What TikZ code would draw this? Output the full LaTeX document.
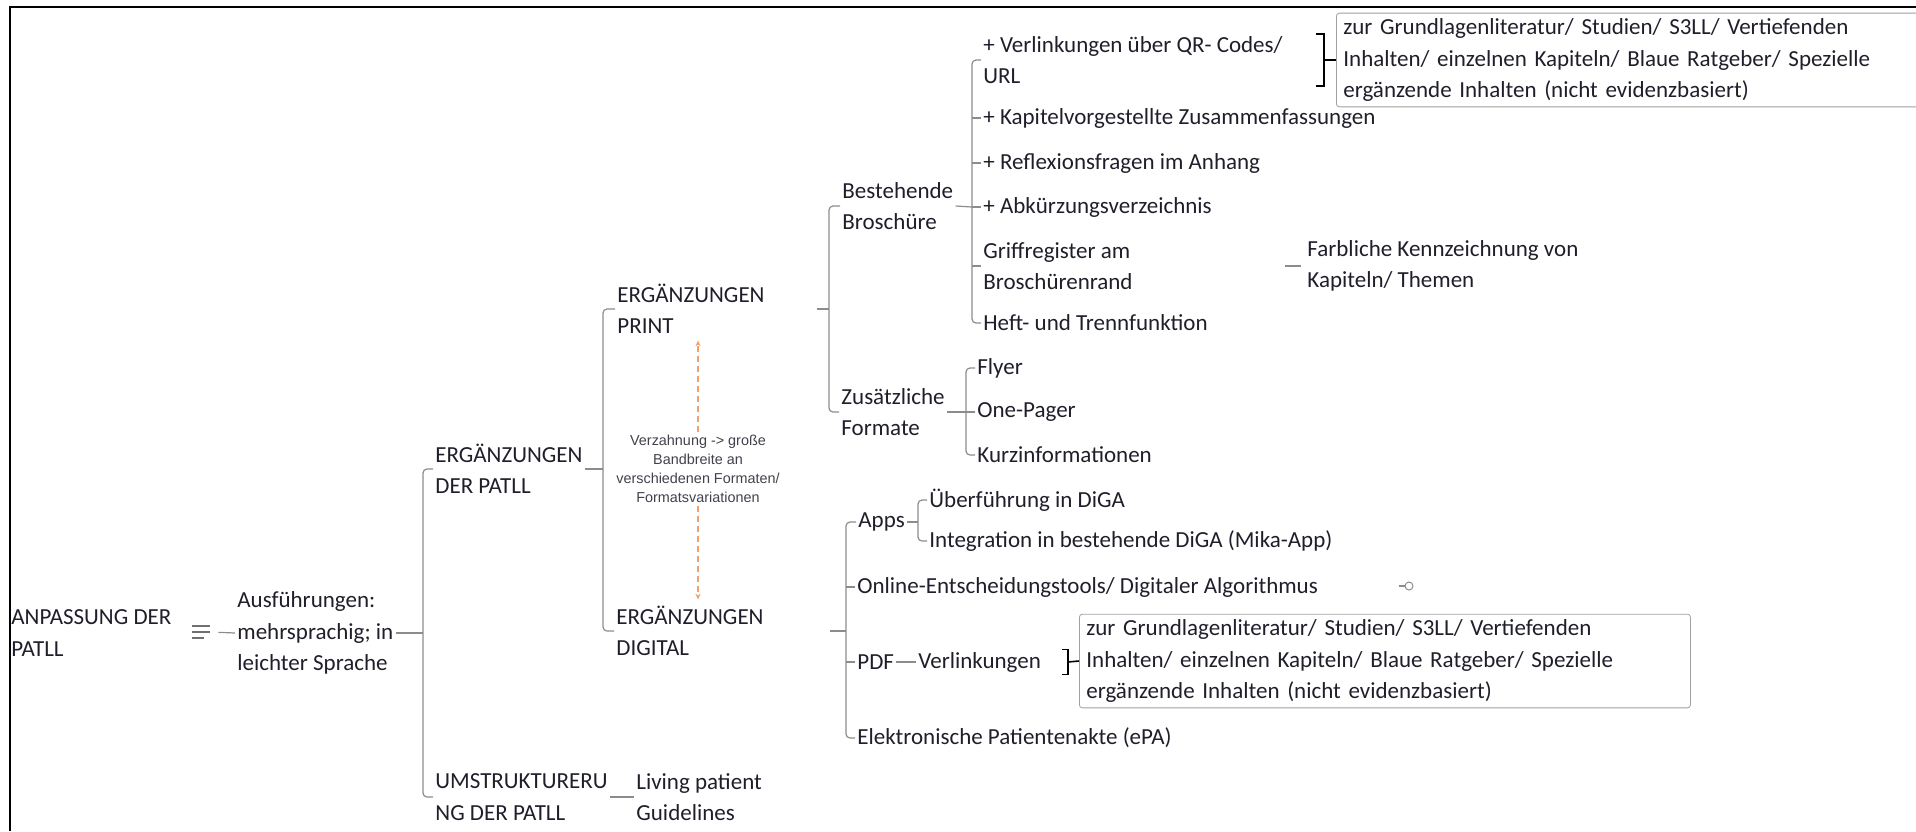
\documentclass[tikz,border=0pt]{standalone}
\usepackage{fontspec}
\setmainfont{Carlito}
\newfontfamily\notefont{Liberation Sans}
\usetikzlibrary{arrows.meta}

\definecolor{ink}{HTML}{1F1F2B}
\definecolor{wire}{HTML}{8C8C8C}
\definecolor{boxline}{HTML}{A0A0A0}
\definecolor{syncorange}{HTML}{F4A06A}

\begin{document}
\begin{tikzpicture}[x=0.5pt, y=-0.5pt,
      topic/.style={anchor=west, align=left, inner sep=1pt, text=ink, font=\fontsize{11.5}{15.75}\selectfont},
      infobox/.style={topic, draw=boxline, rounded corners=1.5pt, inner xsep=3.5pt, inner ysep=2.7pt},
      link/.style={draw=wire, line width=0.6pt, rounded corners=2pt},
      brk/.style={draw=black, line width=0.8pt},
      sync/.style={draw=syncorange, densely dashed, line width=0.6pt, shorten >=2pt, -{Stealth[length=3pt,width=2.6pt]}},
      notemark/.style={minimum width=9pt, minimum height=7pt, inner sep=0pt},
      foldmark/.style={circle, draw=wire, line width=0.5pt, minimum size=4pt, inner sep=0pt},
      ]
      \useasboundingbox (0,0) rectangle (1916,831);
      \draw[line width=1.1pt] (10,831) -- (10,7) -- (1916,7);

      \node[topic] (RT) at (9,633) {ANPASSUNG DER\\PATLL};
      \node[notemark] (NT) at (201,632) {};
      \node[topic] (AU) at (235,633) {Ausführungen:\\mehrsprachig; in\\leichter Sprache};
      \node[topic] (EDP) at (433,469) {ERGÄNZUNGEN\\DER PATLL};
      \node[topic] (UP) at (433,797) {UMSTRUKTURERU\\NG DER PATLL};
      \node[topic] (LP) at (634,797) {Living patient\\Guidelines};
      \node[topic] (EPR) at (615,309) {ERGÄNZUNGEN\\PRINT};
      \node[topic] (EDI) at (614,631) {ERGÄNZUNGEN\\DIGITAL};
      \node[align=center, text=ink!85, inner sep=1.5pt, font=\notefont\fontsize{7.2}{9.5}\selectfont] (VZ) at (698,469)
        {Verzahnung -> große\\Bandbreite an\\verschiedenen Formaten/\\Formatsvariationen};

      \node[topic] (BB) at (840,206) {Bestehende\\Broschüre};
      \node[topic] (ZF) at (839,412) {Zusätzliche\\Formate};
      \node[topic] (VL) at (981,60) {+ Verlinkungen über QR- Codes/\\URL};
      \node[topic] (KZ) at (981,118) {+ Kapitelvorgestellte Zusammenfassungen};
      \node[topic] (RF) at (981,163) {+ Reflexionsfragen im Anhang};
      \node[topic] (AB) at (981,207) {+ Abkürzungsverzeichnis};
      \node[topic] (GR) at (981,266) {Griffregister am\\Broschürenrand};
      \node[topic] (HT) at (981,323) {Heft- und Trennfunktion};
      \node[topic] (FK) at (1305,266) {Farbliche Kennzeichnung von\\Kapiteln/ Themen};
      \node[infobox, text width=320pt] (QB) at (1336,60)
        {zur Grundlagenliteratur/ Studien/ S3LL/ Vertiefenden\\Inhalten/ einzelnen Kapiteln/ Blaue Ratgeber/ Spezielle\\ergänzende Inhalten (nicht evidenzbasiert)};
      \node[topic] (FL) at (975,368) {Flyer};
      \node[topic] (OP) at (975,412) {One-Pager};
      \node[topic] (KI) at (975,455) {Kurzinformationen};

      \node[topic] (AP) at (856,522) {Apps};
      \node[topic] (UD) at (927,500) {Überführung in DiGA};
      \node[topic] (ID) at (927,541) {Integration in bestehende DiGA (Mika-App)};
      \node[topic] (OE) at (855,587) {Online-Entscheidungstools/ Digitaler Algorithmus};
      \node[foldmark] (OF) at (1409,586) {};
      \node[topic] (PD) at (855,662) {PDF};
      \node[topic] (VK) at (916,662) {Verlinkungen};
      \node[infobox, text width=298.5pt] (PB) at (1079,661)
        {zur Grundlagenliteratur/ Studien/ S3LL/ Vertiefenden\\Inhalten/ einzelnen Kapiteln/ Blaue Ratgeber/ Spezielle\\ergänzende Inhalten (nicht evidenzbasiert)};
      \node[topic] (EP) at (855,738) {Elektronische Patientenakte (ePA)};

      \coordinate (J1) at (423,633);
      \coordinate (J2) at (603,469);
      \coordinate (J3) at (829,309);
      \coordinate (J4) at (972,207);
      \coordinate (J5) at (846,631);
      \coordinate (J6) at (966,412);
      \coordinate (J7) at (918,522);
      \coordinate (B1) at (1324,60);
      \coordinate (B2) at (1068,662);

      \foreach \dy/\dx in {3/0, 0/0, -3/-3}
        \draw[wire!80!black, line width=1pt] ([yshift=\dy pt]NT.west) -- ([yshift=\dy pt, xshift=\dx pt]NT.east);
      \draw[link, shorten <=4pt] (NT.east) -- (AU.west);

      \draw[link] (AU.east) -- (J1);
      \draw[link] (EDP.west) -| (J1) |- (UP.west);
      \draw[link] (UP.east) -- (LP.west);

      \draw[link] (EDP.east) -- (J2);
      \draw[link] (EPR.west) -| (J2) |- (EDI.west);
      \draw[sync] (VZ.north) -- (VZ.north |- EPR.south);
      \draw[sync] (VZ.south) -- (VZ.south |- EDI.north);

      \draw[link, shorten <=25pt] (EPR.east) -- (J3);
      \draw[link] (BB.west) -| (J3) |- (ZF.west);

      \draw[link] (BB.east) -- (J4);
      \draw[link] (VL.west) -| (J4) |- (HT.west);
      \foreach \n in {KZ,RF,AB,GR}
        \draw[link] (J4 |- \n.west) -- (\n.west);
      \draw[link, shorten <=75pt, shorten >=2pt] (GR.east) -- (FK.west);
      \draw[brk] (B1 |- VL.north) ++(-8,0) -- ++(8,0) -- (B1 |- VL.south) -- ++(-8,0);
      \draw[brk] (B1) -- (QB.west);

      \draw[link] (ZF.east) -- (J6);
      \draw[link] (FL.west) -| (J6) |- (KI.west);
      \draw[link] (J6) -- (OP.west);

      \draw[link, shorten <=32pt] (EDI.east) -- (J5);
      \draw[link] (AP.west) -| (J5) |- (EP.west);
      \foreach \n in {OE,PD}
        \draw[link] (J5 |- \n.west) -- (\n.west);
      \draw[link] (AP.east) -- (J7);
      \draw[link] (UD.west) -| (J7) |- (ID.west);
      \draw[link] ([xshift=-3pt]OF.west) -- (OF.west);
      \draw[link] (PD.east) -- (VK.west);
      \draw[brk] (B2 |- VK.north) ++(-6,0) -- ++(6,0) -- (B2 |- VK.south) -- ++(-6,0);
      \draw[brk] (B2) -- (PB.west);
    \end{tikzpicture}
\end{document}
